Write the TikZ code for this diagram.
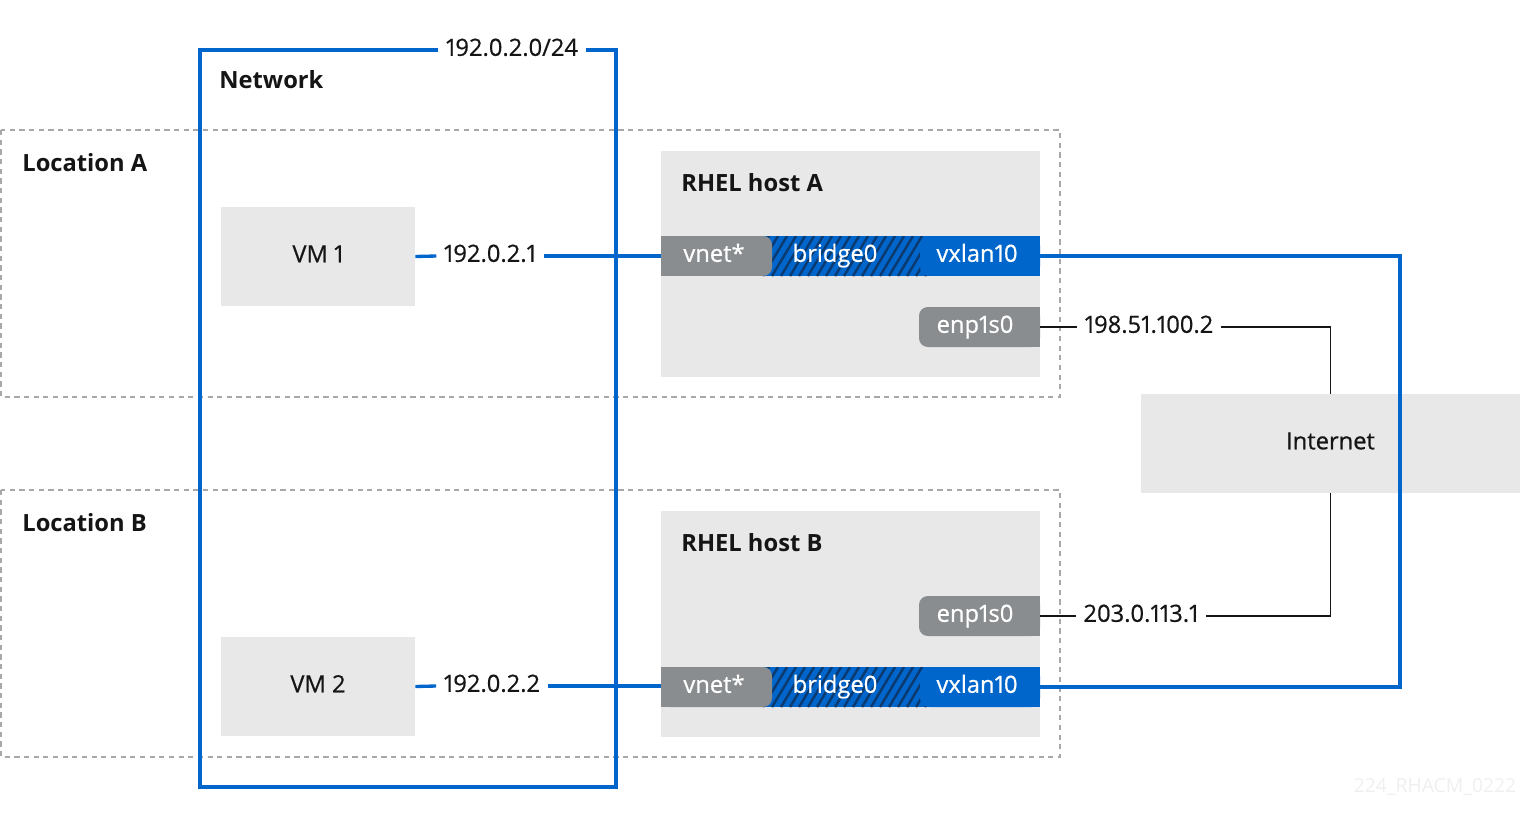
\documentclass[tikz,border=0pt]{standalone}
\usepackage{fontspec}
\setmainfont{Open Sans}[Numbers=Proportional]
\newfontfamily\medfont{Open Sans}[Numbers=Proportional, FakeBold=0.6]
\usetikzlibrary{calc}
\definecolor{rhblue}{HTML}{0066CC}
\definecolor{hatchblue}{HTML}{0A3A70}
\definecolor{boxgrey}{HTML}{E8E8E8}
\definecolor{ifgrey}{HTML}{8A8D90}
\definecolor{dashgrey}{HTML}{A8A8A8}
\definecolor{txt}{HTML}{151515}
\definecolor{wm}{HTML}{EFEFEF}
\begin{document}
\begin{tikzpicture}[x=0.02cm,y=-0.02cm,
  font=\fontsize{13.5}{16}\medfont, text=txt,
  every node/.style={text height=0.66em, text depth=0pt},
  greybox/.style={fill=boxgrey, inner sep=0pt},
  locbox/.style={draw=dashgrey, line width=0.9pt, dash pattern=on 3pt off 2.5pt},
  blueline/.style={draw=rhblue, line width=1.9pt},
  blackline/.style={draw=txt, line width=1.1pt},
  titlelbl/.style={font=\fontsize{13.5}{16}\selectfont\bfseries, anchor=west, inner sep=0pt, yshift=-1.3pt},
  ifbox/.style={text=white, rounded corners=5pt, minimum height=0.8cm, inner sep=0pt},
  iplbl/.style={inner xsep=4.2pt, inner ysep=2pt},
]
\useasboundingbox (0,0) rectangle (1520,828);

% location boxes
\draw[locbox] (1,130) rectangle (1060,397);
\draw[locbox] (1,490) rectangle (1060,757);
\node[titlelbl] (locA) at (22,163) {Location A};
\node[titlelbl] (locB) at (22,523) {Location B};

% VM boxes
\node[greybox, minimum width=3.88cm, minimum height=1.98cm] (vm1) at (318,256.5) {VM 1};
\node[greybox, minimum width=3.88cm, minimum height=1.98cm] (vm2) at (318,686.5) {VM 2};

% host boxes
\node[greybox, minimum width=7.58cm, minimum height=4.52cm] (hostA) at (850.5,264) {};
\node[greybox, minimum width=7.58cm, minimum height=4.52cm] (hostB) at (850.5,624) {};
\node[titlelbl] (hostAlbl) at (681,183) {RHEL host A};
\node[titlelbl] (hostBlbl) at (681,543) {RHEL host B};

% Internet
\node[greybox, minimum width=7.58cm, minimum height=1.98cm] (inet) at (1330.5,443.5) {};
\node (inetlbl) at (1330.5,443.5) {Internet};

% bridge A (hatched)
\begin{scope}
\clip (760,236) rectangle (930,276);
\fill[rhblue] (760,236) rectangle (930,276);
\foreach \i in {700,709,...,950} \draw[hatchblue, line width=1.4pt] (\i,276) -- ++(24,-40);
\end{scope}
% bridge B (hatched)
\begin{scope}
\clip (760,667) rectangle (930,707);
\fill[rhblue] (760,667) rectangle (930,707);
\foreach \i in {700,709,...,950} \draw[hatchblue, line width=1.4pt] (\i,707) -- ++(24,-40);
\end{scope}

% interfaces host A
\fill[ifgrey] (661,236) rectangle (700,276);
\node[ifbox, fill=ifgrey, minimum width=2.22cm] (vnetA) at (716.5,256) {};
\node[text=white] at (714,256) {vnet*};
\node[text=white] (brA) at (835,256) {bridge0};
\fill[rhblue] (960,236) rectangle (1040,276);
\node[ifbox, fill=rhblue, minimum width=2.4cm] (vxlanA) at (980,256) {};
\node[text=white] at (977,256) {vxlan10};
\fill[ifgrey] (960,307) rectangle (1040,347);
\node[ifbox, fill=ifgrey, minimum width=2.42cm] (enpA) at (979.5,327) {};
\node[text=white] at (975,327) {enp1s0};

% interfaces host B
\fill[ifgrey] (661,667) rectangle (700,707);
\node[ifbox, fill=ifgrey, minimum width=2.22cm] (vnetB) at (716.5,687) {};
\node[text=white] at (714,687) {vnet*};
\node[text=white] (brB) at (835,687) {bridge0};
\fill[rhblue] (960,667) rectangle (1040,707);
\node[ifbox, fill=rhblue, minimum width=2.4cm] (vxlanB) at (980,687) {};
\node[text=white] at (977,687) {vxlan10};
\fill[ifgrey] (960,596) rectangle (1040,636);
\node[ifbox, fill=ifgrey, minimum width=2.42cm] (enpB) at (979.5,616) {};
\node[text=white] at (975,616) {enp1s0};

% Network box
\node[iplbl] (netlbl) at (512,50) {192.0.2.0/24};
\node[titlelbl] (netttl) at (219,80) {Network};
\draw[blueline] (netlbl.west) -- (200,50) -- (200,787) -- (616,787) -- (616,50) -- (netlbl.east);

% VM connections
\node[iplbl] (ipA) at (490,256) {192.0.2.1};
\node[iplbl] (ipB) at (492,686) {192.0.2.2};
\draw[blueline] (vm1.east) -- (ipA.west);
\draw[blueline] (ipA.east) -- (ipA.east -| vnetA.west);
\draw[blueline] (vm2.east) -- (ipB.west);
\draw[blueline] (ipB.east) -- (ipB.east -| vnetB.west);

% vxlan tunnel
\coordinate (turn) at (1400,470);
\draw[blueline] (vxlanA.east) -| (turn) |- (vxlanB.east);

% uplinks
\node[iplbl] (ipEA) at (1149,327) {198.51.100.2};
\node[iplbl] (ipEB) at (1141,616) {203.0.113.1};
\draw[blackline] (enpA.east) -- (ipEA.west);
\draw[blackline] (ipEA.east) -| (inet.north);
\draw[blackline] (enpB.east) -- (ipEB.west);
\draw[blackline] (ipEB.east) -| (inet.south);

% watermark
\node[text=wm, font=\fontsize{11}{13}\selectfont] (wmk) at (1435,787) {224\_RHACM\_0222};
\end{tikzpicture}
\end{document}
